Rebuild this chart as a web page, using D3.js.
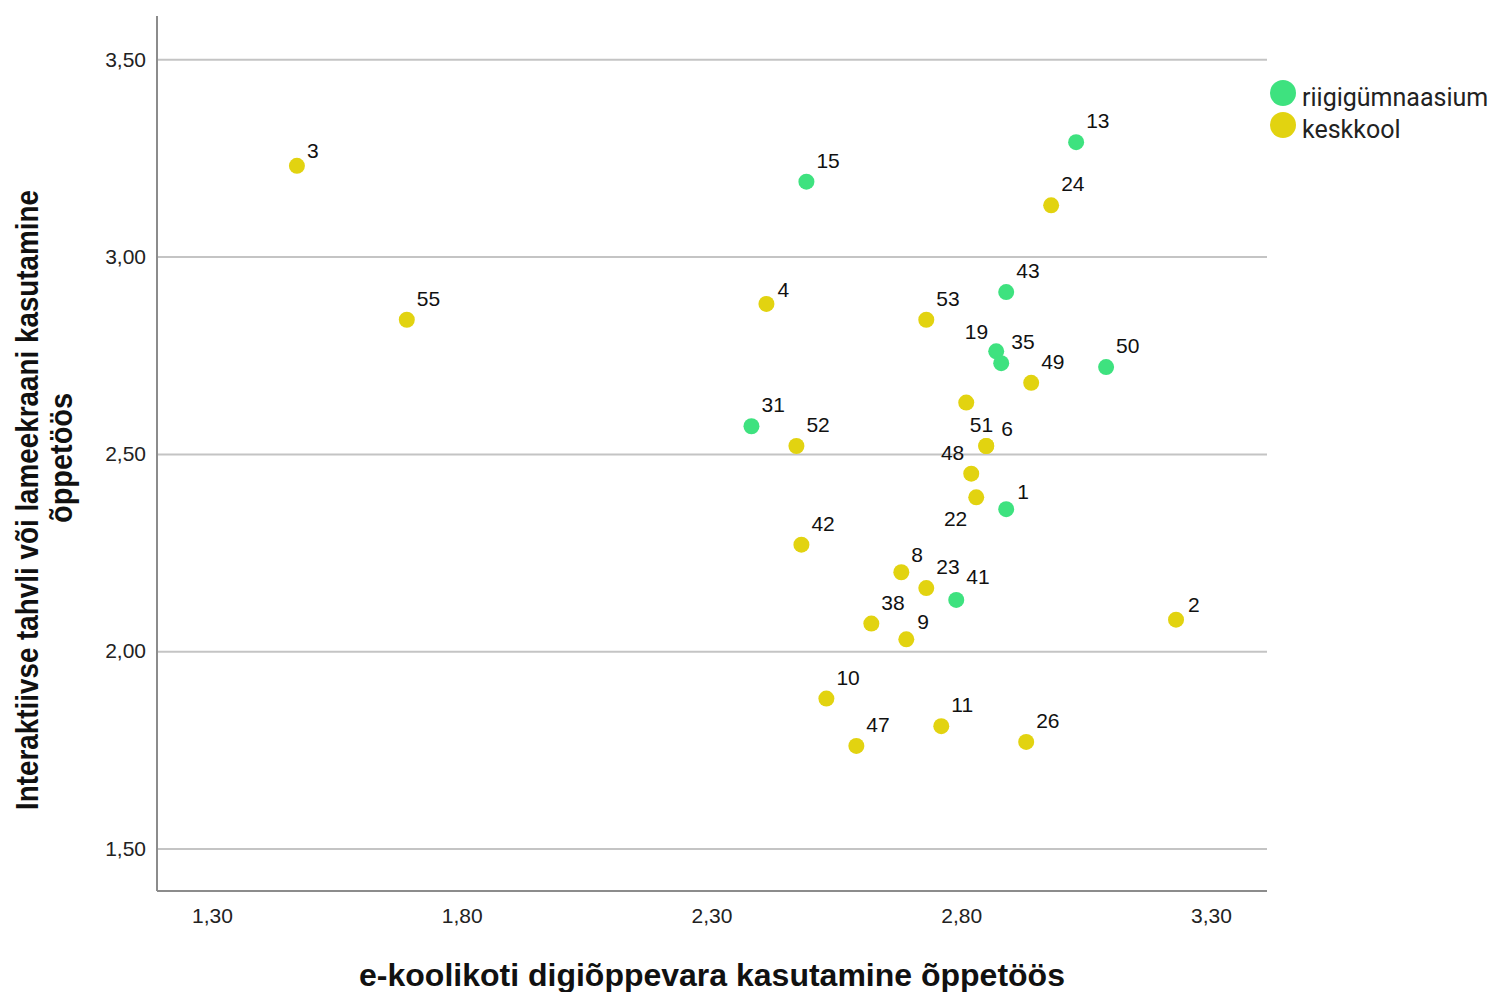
<!DOCTYPE html>
<html>
  <head>
    <meta charset="utf-8">
    <style>
      body {
        margin: 0;
        background: #fff;
        font-family: "Liberation Sans", Arial, Helvetica, sans-serif;
      }
      .tick-label {
        font-size: 21px;
        fill: #222;
      }
      .point-label {
        font-size: 21px;
        fill: #111;
      }
      .legend-label {
        font-family: Roboto, "Noto Sans", sans-serif;
        font-size: 25px;
        fill: #222;
      }
      .axis-title {
        font-size: 32px;
        font-weight: bold;
        fill: #111;
      }
    </style>
  </head>
  <body>
    <script src="https://d3js.org/d3.v7.min.js"></script>
    <script>
      // groups (legend order)
      const groups = ['riigigümnaasium', 'keskkool'];
      const groupColors = ['#3ee27f', '#e2d310'];

      // case labels, values and group of each point
      const pointLabels = ['15', '13', '43', '19', '35', '50', '31', '1', '41',
        '3', '55', '4', '24', '53', '49', '', '51', '6', '52', '48', '22',
        '42', '8', '23', '38', '9', '2', '10', '47', '11', '26'];
      const xValues = [2.49, 3.03, 2.89, 2.87, 2.88, 3.09, 2.38, 2.89, 2.79,
        1.47, 1.69, 2.41, 2.98, 2.73, 2.94, 2.81, 2.85, 2.85, 2.47, 2.82, 2.83,
        2.48, 2.68, 2.73, 2.62, 2.69, 3.23, 2.53, 2.59, 2.76, 2.93];
      const yValues = [3.19, 3.29, 2.91, 2.76, 2.73, 2.72, 2.57, 2.36, 2.13,
        3.23, 2.84, 2.88, 3.13, 2.84, 2.68, 2.63, 2.52, 2.52, 2.52, 2.45, 2.39,
        2.27, 2.20, 2.16, 2.07, 2.03, 2.08, 1.88, 1.76, 1.81, 1.77];
      const pointGroup = ['riigigümnaasium', 'riigigümnaasium', 'riigigümnaasium',
        'riigigümnaasium', 'riigigümnaasium', 'riigigümnaasium', 'riigigümnaasium',
        'riigigümnaasium', 'riigigümnaasium',
        'keskkool', 'keskkool', 'keskkool', 'keskkool', 'keskkool', 'keskkool',
        'keskkool', 'keskkool', 'keskkool', 'keskkool', 'keskkool', 'keskkool',
        'keskkool', 'keskkool', 'keskkool', 'keskkool', 'keskkool', 'keskkool',
        'keskkool', 'keskkool', 'keskkool', 'keskkool'];

      // axis ticks
      const xTicks = [1.30, 1.80, 2.30, 2.80, 3.30];
      const yTicks = [1.50, 2.00, 2.50, 3.00, 3.50];

      const xTitle = 'e-koolikoti digiõppevara kasutamine õppetöös';
      const yTitleLines = ['Interaktiivse tahvli või lameekraani kasutamine', 'õppetöös'];

      const data = pointLabels.map((label, i) => ({
        label: label,
        x: xValues[i],
        y: yValues[i],
        group: pointGroup[i]
      }));

      const width = 1496, height = 992;
      const plot = { left: 157, right: 1267, top: 16, bottom: 891 };

      const x = d3.scaleLinear().domain([1.30, 3.30]).range([212, 1211]);
      const y = d3.scaleLinear().domain([1.50, 3.50]).range([848.5, 59.3]);
      const color = d3.scaleOrdinal().domain(groups).range(groupColors);

      const fmt = d => d.toFixed(2).replace('.', ',');

      const svg = d3.select('body').append('svg')
        .attr('width', width)
        .attr('height', height);

      // horizontal grid lines
      svg.append('g')
        .attr('transform', `translate(${plot.left},0)`)
        .call(d3.axisLeft(y).tickValues(yTicks).tickSize(-(plot.right - plot.left)).tickFormat(''))
        .call(g => g.select('.domain').remove())
        .call(g => g.selectAll('line').attr('stroke', '#c4c4c4').attr('stroke-width', 2));

      // y axis labels
      svg.append('g')
        .attr('transform', `translate(${plot.left},0)`)
        .call(d3.axisLeft(y).tickValues(yTicks).tickSize(0).tickPadding(11).tickFormat(fmt))
        .call(g => g.select('.domain').remove())
        .call(g => g.selectAll('text').attr('class', 'tick-label').attr('font-size', null).attr('font-family', null));

      // x axis labels
      svg.append('g')
        .attr('transform', `translate(0,${plot.bottom})`)
        .call(d3.axisBottom(x).tickValues(xTicks).tickSize(0).tickPadding(17).tickFormat(fmt))
        .call(g => g.select('.domain').remove())
        .call(g => g.selectAll('text').attr('class', 'tick-label').attr('font-size', null).attr('font-family', null));

      // axis frame lines
      svg.append('line')
        .attr('x1', plot.left).attr('x2', plot.left)
        .attr('y1', plot.top).attr('y2', plot.bottom)
        .attr('stroke', '#8c8c8c').attr('stroke-width', 2);
      svg.append('line')
        .attr('x1', plot.left).attr('x2', plot.right)
        .attr('y1', plot.bottom).attr('y2', plot.bottom)
        .attr('stroke', '#8c8c8c').attr('stroke-width', 2);

      // points
      svg.append('g')
        .selectAll('circle')
        .data(data)
        .join('circle')
        .attr('cx', d => x(d.x))
        .attr('cy', d => y(d.y))
        .attr('r', 8)
        .attr('fill', d => color(d.group));

      // label nudges: [dx, dy, anchor]; default is upper right
      const labelNudge = {
        '3': [10, -8], '4': [11, -7], '19': [-8, -12, 'end'], '51': [7, -14, 'end'],
        '6': [15, -10], '48': [-7, -14, 'end'], '1': [11, -10], '22': [-9, 29, 'end'],
        '8': [10, -10], '9': [11, -10], '2': [12, -8], '41': [10, -16]
      };

      svg.append('g')
        .selectAll('text')
        .data(data.filter(d => d.label !== ''))
        .join('text')
        .attr('class', 'point-label')
        .attr('x', d => x(d.x) + (labelNudge[d.label] || [10])[0])
        .attr('y', d => y(d.y) + (labelNudge[d.label] || [10, -14])[1])
        .attr('text-anchor', d => (labelNudge[d.label] || [])[2] || 'start')
        .text(d => d.label);

      // legend
      const legend = svg.append('g')
        .selectAll('g')
        .data(groups)
        .join('g')
        .attr('transform', (d, i) => `translate(1283,${93 + i * 32})`);

      legend.append('circle')
        .attr('r', 13)
        .attr('fill', d => color(d));

      legend.append('text')
        .attr('class', 'legend-label')
        .attr('x', 19)
        .attr('y', 13)
        .text(d => d);

      // axis titles
      svg.append('text')
        .attr('class', 'axis-title')
        .attr('x', (plot.left + plot.right) / 2)
        .attr('y', 986)
        .attr('text-anchor', 'middle')
        .text(xTitle);

      const yTitleCenters = [500, 458];
      const yTitleBase = [38, 72];
      const yTitleLen = [620, 130];
      svg.append('g')
        .selectAll('text')
        .data(yTitleLines)
        .join('text')
        .attr('class', 'axis-title')
        .attr('text-anchor', 'middle')
        .attr('transform', (d, i) => `translate(${yTitleBase[i]},${yTitleCenters[i]}) rotate(-90)`)
        .attr('textLength', (d, i) => yTitleLen[i])
        .attr('lengthAdjust', 'spacingAndGlyphs')
        .text(d => d);
    </script>
  </body>
</html>
